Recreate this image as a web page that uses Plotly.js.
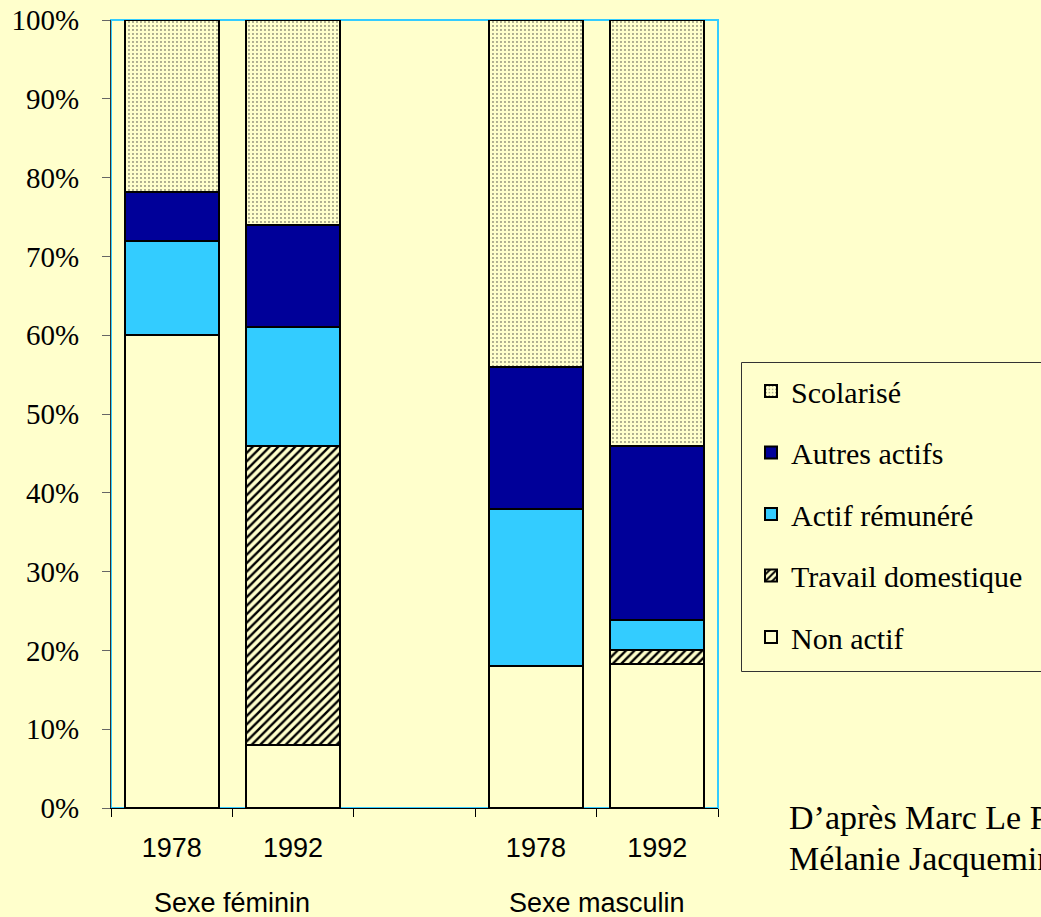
<!DOCTYPE html>
<html><head><meta charset="utf-8">
<script src="https://cdn.plot.ly/plotly-3.0.1.min.js"></script>
<style>html,body{margin:0;padding:0;background:#FFFFCC;overflow:hidden}#c{width:1041px;height:917px}</style>
</head><body><div id="c"></div>
<script>
const slots = ["1978","1992","","1978","1992"];
const years = ["1978","1992","1978","1992"];
const barPos = [0,1,3,4];
const groups = ["Sexe féminin","Sexe masculin"];
const groupPos = [0.5,3.5];
const nonActif = [60, 8, 18, 18.3];
const travailDom = [0, 38, 0, 1.8];
const actifRem = [12, 15, 20, 3.7];
const autresActifs = [6.2, 13, 18, 22.2];
const scolarise = [21.8, 26, 44, 54];
const yTicks = [0,10,20,30,40,50,60,70,80,90,100];
const sourceLines = ["D’après Marc Le Pape et", "Mélanie Jacquemin"];

const BG = "#FFFFCC";
const serif = "Liberation Serif, Times New Roman, serif";
const sans = "Liberation Sans, Arial, sans-serif";
const line = {color:"#000", width:2};
function bar(name, y, marker, g, rank){
  return {type:"bar", name:name, x:barPos, y:y, width:0.776, legendgroup:g, legendrank:rank,
    marker:Object.assign({line:line}, marker), hoverinfo:"skip"};
}
const traces = [
  bar("Non actif", nonActif, {color:BG}, "a", 5),
  bar("Travail domestique", travailDom, {color:BG, pattern:{shape:"/", fgcolor:"#000", bgcolor:BG, size:6, solidity:0.4}}, "b", 4),
  bar("Actif rémunéré", actifRem, {color:"#33CCFF"}, "c", 3),
  bar("Autres actifs", autresActifs, {color:"#000099"}, "d", 2),
  bar("Scolarisé", scolarise, {color:BG, pattern:{shape:".", fgcolor:"#333", bgcolor:BG, size:4, solidity:0.1}}, "e", 1)
];
traces.push({type:"scatter", x:barPos, y:[0,0,0,0], xaxis:"x2", mode:"none", showlegend:false, hoverinfo:"skip"});

const L=111, T=20, PW=607, PH=788;
const px = v => (v-L)/PW;
const py = v => (T+PH-v)/PH;
const boundaries = slots.map((s,i)=>i-0.5).concat([slots.length-0.5]);
const annotations = groups.map((g,i)=>({x:groupPos[i], xref:"x", y:py(903), yref:"paper", text:g, showarrow:false,
  font:{family:sans, size:27, color:"#000"}, yanchor:"middle"}));
sourceLines.forEach((s,i)=>annotations.push({x:px(787), xref:"paper", y:py(817+i*41), yref:"paper",
  xanchor:"left", yanchor:"middle", showarrow:false, text:s, font:{family:serif, size:34, color:"#000"}}));

const layout = {
  width:1041, height:917,
  paper_bgcolor:BG, plot_bgcolor:BG,
  margin:{l:L, r:1041-L-PW, t:T, b:917-T-PH, autoexpand:false},
  barmode:"stack",
  showlegend:true,
  legend:{x:px(751), xanchor:"left", y:py(365), yanchor:"top",
    bgcolor:"rgba(0,0,0,0)", borderwidth:0,
    font:{family:serif, size:30, color:"#000"},
    traceorder:"grouped", tracegroupgap:19.5},
  xaxis:{range:[-0.5,4.5], tickmode:"array", tickvals:boundaries, ticktext:boundaries.map(()=>""),
    ticks:"outside", ticklen:8, tickcolor:"#000", showgrid:false, zeroline:false,
    showline:true, linecolor:"#000", linewidth:1},
  xaxis2:{overlaying:"x", range:[-0.5,4.5], tickmode:"array", tickvals:barPos, ticktext:years, side:"bottom",
    ticks:"", showgrid:false, zeroline:false, showline:false, ticklabelstandoff:21,
    tickfont:{family:sans, size:27, color:"#000"}},
  yaxis:{range:[0,100], tickmode:"array", tickvals:yTicks, ticktext:yTicks.map(v=>v+"%"),
    ticks:"outside", ticklen:8, tickcolor:"#666", showgrid:false, zeroline:false,
    showline:true, linecolor:"#333", linewidth:1, ticklabelstandoff:17,
    tickfont:{family:serif, size:29, color:"#000"}},
  shapes:[
    {type:"rect", xref:"paper", yref:"paper", x0:0, x1:1, y0:0, y1:1, line:{color:"#33CCFF", width:2}, layer:"below"},
    {type:"rect", xref:"paper", yref:"paper", x0:px(741.5), x1:px(1060), y0:py(362.5), y1:py(671.5), line:{color:"#333", width:1}, layer:"below"}
  ],
  annotations: annotations
};
Plotly.newPlot("c", traces, layout, {displayModeBar:false, staticPlot:true});
</script></body></html>
